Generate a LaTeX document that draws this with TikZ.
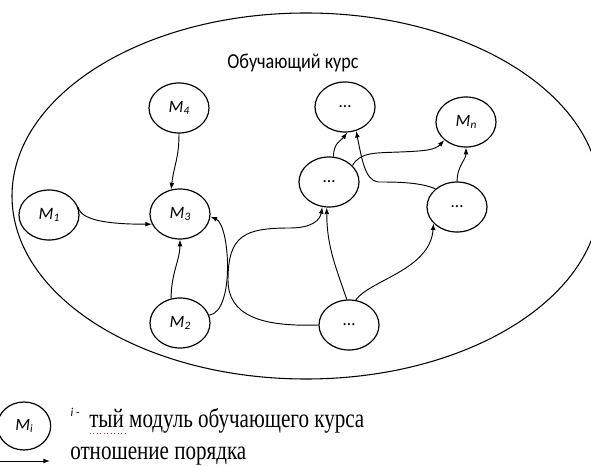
\documentclass[tikz,border=0pt]{standalone}
\usepackage{graphicx}
\usepackage{fontspec}
\setmainfont{Liberation Serif}
\newfontfamily\calibri{Carlito}
\usetikzlibrary{arrows.meta,shapes.geometric}
\definecolor{spellred}{RGB}{220,40,40}

\tikzset{
  modul/.style={ellipse, draw, line width=0.9pt, minimum width=45pt,
    minimum height=37.5pt, inner sep=0pt,
    font=\calibri\fontsize{13}{14}\selectfont},
  arr/.style={-{Latex[length=5pt,width=3.6pt]}, line width=0.7pt},
}
\newcommand{\modname}[1]{{\itshape M\raisebox{-0.3ex}{\fontsize{8.5}{9}\selectfont #1}}}

\begin{document}
\begin{tikzpicture}[x=0.75pt, y=-0.75pt]
    \useasboundingbox (0,0) rectangle (591,466);

    % Course boundary
    \draw[line width=0.8pt] (306,196) ellipse [x radius=294, y radius=183];
    \node[font=\calibri\fontsize{16}{18}\selectfont] (titel) at (293,63)
      {\scalebox{0.85}[1]{Обучающий курс}};

    % Modules
    \node[modul] (m4) at (179,108) {\modname{4}};
    \node[modul] (m1) at (49,215) {\modname{1}};
    \node[modul] (m3) at (180,214) {\modname{3}};
    \node[modul] (m2) at (180,323) {\modname{2}};
    \node[modul] (d1) at (345,107) {\ldots};
    \node[modul] (d2) at (329,182) {\ldots};
    \node[modul] (mn) at (466,122) {\modname{n}};
    \node[modul] (d3) at (457,207) {\ldots};
    \node[modul] (d4) at (349,325) {\ldots};

    % Order relations, left group
    \draw[arr] (m4.south) .. controls +(0,25) and +(3,-25) .. (m3.110);
    \draw[arr] (m1.15) .. controls +(3,14) and +(-40,0) .. (m3.200);
    \draw[arr] (m2.110) .. controls +(0,-25) and +(0,20) .. (m3.south);
    \draw[arr] (m2.15) .. controls (235,312) and (230,225) .. (m3.-5);

    % Order relations, right group
    \draw[arr] (d4.west) .. controls (260,327) and (228,315) .. (228,280)
      .. controls (228,235) and (245,228) .. (290,228)
      .. controls (312,228) and (320,220) .. (d2.255);
    \draw[arr] (d4.95) .. controls +(-10,-30) and +(0,40) .. (d2.265);
    \draw[arr] (d4.75) .. controls (370,280) and (430,270) .. (d3.215);
    \draw[arr] (d2.80) .. controls +(0,-14) and +(-6,8) .. (d1.275);
    \draw[arr] (d3.140) .. controls (420,182) and (395,182) .. (378,182)
      .. controls (365,180) and (362,160) .. (d1.295);
    \draw[arr] (d2.35) .. controls (360,152) and (375,153) .. (400,152)
      .. controls (425,151) and (435,150) .. (mn.220);
    \draw[arr] (d3.north) .. controls +(0,-15) and +(0,12) .. (mn.south);

    % Legend
    \node[modul, minimum width=40pt, minimum height=36pt] (mi) at (24,426) {\modname{i}};
    \node[anchor=west, font=\calibri\fontsize{9}{10}\selectfont] (idx) at (66,412)
      {\textit{i} -};
    \node[anchor=west, inner sep=0pt] (modtext) at (89,421)
      {\scalebox{0.79}[1]{\fontsize{20}{22}\selectfont тый модуль обучающего курса}};
    \draw[spellred, dotted, line width=0.6pt] (90,433) -- (125,433);
    \coordinate (a0) at (0,461);
    \coordinate (a1) at (50,461);
    \draw[arr] (a0) -- (a1);
    \node[anchor=west, inner sep=0pt] (reltext) at (70,456)
      {\scalebox{0.79}[1]{\fontsize{20}{22}\selectfont отношение порядка}};
\end{tikzpicture}
\end{document}
